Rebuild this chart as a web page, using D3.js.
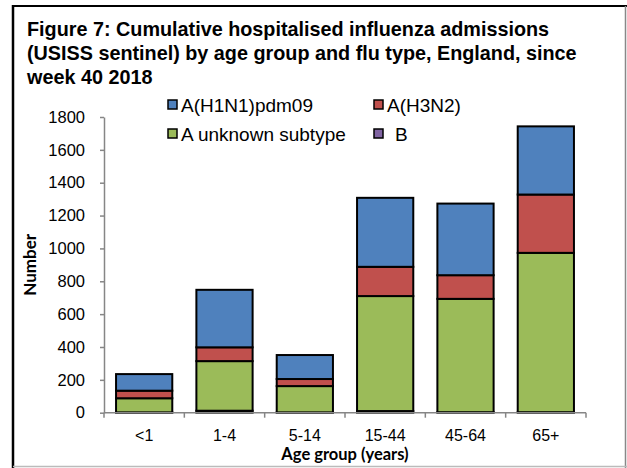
<!DOCTYPE html>
<html>
<head>
<meta charset="utf-8">
<script src="https://cdn.jsdelivr.net/npm/d3@7"></script>
<style>
  body { margin: 0; background: #fff; }
  svg { display: block; }
</style>
</head>
<body>
<svg id="chart" width="627" height="468"></svg>
<script>
(function () {
  // age groups and counts
  var ageGroups = ["<1", "1-4", "5-14", "15-44", "45-64", "65+"];
  var fluB = [2, 12, 2, 10, 3, 3];
  var aUnknown = [86, 302, 160, 700, 690, 970];
  var aH3N2 = [46, 84, 43, 178, 144, 355];
  var aH1N1 = [101, 350, 146, 420, 436, 415];
  var yTicks = [0, 200, 400, 600, 800, 1000, 1200, 1400, 1600, 1800];

  var seriesNames = ["B", "A unknown subtype", "A(H3N2)", "A(H1N1)pdm09"];
  var seriesValues = [fluB, aUnknown, aH3N2, aH1N1];
  var legendOrder = ["A(H1N1)pdm09", "A(H3N2)", "A unknown subtype", "B"];
  var colours = {
    "A(H1N1)pdm09": "#4f81bd",
    "A(H3N2)": "#c0504d",
    "A unknown subtype": "#9bbb59",
    "B": "#8064a2"
  };

  var rows = ageGroups.map(function (g, i) {
    var r = { group: g };
    seriesNames.forEach(function (s, j) { r[s] = seriesValues[j][i]; });
    return r;
  });

  var margin = { top: 117, right: 41, bottom: 55, left: 104 };
  var width = 627 - margin.left - margin.right;
  var height = 468 - margin.top - margin.bottom - 0.3;

  var svg = d3.select("#chart");

  // frame around the figure
  svg.append("line").attr("x1", 13).attr("y1", 5).attr("x2", 13).attr("y2", 468)
    .attr("stroke", "#000").attr("stroke-width", 2.5);
  svg.append("line").attr("x1", 12).attr("y1", 6).attr("x2", 627).attr("y2", 6)
    .attr("stroke", "#000").attr("stroke-width", 2);
  svg.append("line").attr("x1", 625.5).attr("y1", 6).attr("x2", 625.5).attr("y2", 468)
    .attr("stroke", "#888").attr("stroke-width", 1.5);
  svg.append("line").attr("x1", 13).attr("y1", 466.5).attr("x2", 627).attr("y2", 466.5)
    .attr("stroke", "#bbb").attr("stroke-width", 1.5);

  var title = [
    "Figure 7: Cumulative hospitalised influenza admissions",
    "(USISS sentinel) by age group and flu type, England, since",
    "week 40 2018"
  ];
  svg.append("g").selectAll("text")
    .data(title)
    .enter().append("text")
      .attr("x", 27)
      .attr("y", function (d, i) { return 36 + i * 24; })
      .style("font-family", "Liberation Sans, Arial, sans-serif")
      .style("font-weight", "bold")
      .style("font-size", "19.8px")
      .text(function (d) { return d; });

  var vis = svg.append("g")
    .attr("transform", "translate(" + margin.left + "," + margin.top + ")");

  var xscale = d3.scaleBand()
    .domain(ageGroups)
    .range([0, width])
    .paddingInner(0.3)
    .paddingOuter(0.15);

  var yscale = d3.scaleLinear()
    .domain([0, 1800])
    .range([height, 0]);

  var stack = d3.stack().keys(seriesNames);
  var layers = stack(rows);

  vis.selectAll("g.layer")
    .data(layers)
    .enter().append("g")
      .attr("class", "layer")
      .attr("fill", function (d) { return colours[d.key]; })
    .selectAll("rect")
    .data(function (d) { return d; })
    .enter().append("rect")
      .attr("x", function (d) { return xscale(d.data.group); })
      .attr("y", function (d) { return yscale(d[1]); })
      .attr("width", xscale.bandwidth())
      .attr("height", function (d) { return yscale(d[0]) - yscale(d[1]); })
      .attr("stroke", "#000")
      .attr("stroke-width", 2);

  // y axis
  var yaxis = d3.axisLeft(yscale)
    .tickValues(yTicks)
    .tickFormat(d3.format("d"))
    .tickSize(4)
    .tickSizeOuter(0)
    .tickPadding(15);
  var gy = vis.append("g").call(yaxis);
  gy.select(".domain").attr("stroke", "#868686").attr("stroke-width", 1.5);
  gy.selectAll(".tick line").attr("stroke", "#868686").attr("stroke-width", 1.5);
  gy.selectAll("text")
    .style("font-family", "Liberation Sans, Arial, sans-serif")
    .style("font-size", "16.5px")
    .attr("fill", "#000");

  // x axis, ticks between categories
  var gx = vis.append("g").attr("transform", "translate(0," + height + ")");
  gx.append("line").attr("x1", 0).attr("x2", width)
    .attr("stroke", "#868686").attr("stroke-width", 1.5);
  gx.selectAll("line.tk")
    .data(d3.range(ageGroups.length + 1))
    .enter().append("line")
      .attr("class", "tk")
      .attr("x1", function (i) { return i * width / ageGroups.length; })
      .attr("x2", function (i) { return i * width / ageGroups.length; })
      .attr("y1", 0).attr("y2", 5)
      .attr("stroke", "#868686").attr("stroke-width", 1.5);
  gx.selectAll("text")
    .data(ageGroups)
    .enter().append("text")
      .attr("x", function (d) { return xscale(d) + xscale.bandwidth() / 2; })
      .attr("y", 28)
      .attr("text-anchor", "middle")
      .style("font-family", "Liberation Sans, Arial, sans-serif")
      .style("font-size", "16px")
      .text(function (d) { return d; });

  // axis titles
  svg.append("text")
    .attr("x", margin.left + width / 2)
    .attr("y", 460)
    .attr("text-anchor", "middle")
    .style("font-family", "Lato, sans-serif")
    .style("font-weight", "bold")
    .style("font-size", "16.5px")
    .text("Age group (years)");

  svg.append("text")
    .attr("transform", "translate(35.5," + (margin.top + height / 2) + ") rotate(-90)")
    .attr("text-anchor", "middle")
    .style("font-family", "Lato, sans-serif")
    .style("font-weight", "bold")
    .style("font-size", "17px")
    .text("Number");

  // legend
  var legend = svg.append("g");
  var item = legend.selectAll("g")
    .data(legendOrder)
    .enter().append("g")
      .attr("transform", function (d, i) {
        return "translate(" + (i % 2 === 0 ? 168 : 374) + "," + (Math.floor(i / 2) === 0 ? 100 : 129) + ")";
      });
  item.append("rect")
    .attr("width", 9).attr("height", 9)
    .attr("fill", function (d) { return colours[d]; })
    .attr("stroke", "#000").attr("stroke-width", 1.5);
  item.append("text")
    .attr("x", function (d) { return d === "B" ? 21 : 13; })
    .attr("y", 11.5)
    .style("font-family", "Liberation Sans, Arial, sans-serif")
    .style("font-size", "19px")
    .text(function (d) { return d; });
})();
</script>
</body>
</html>
